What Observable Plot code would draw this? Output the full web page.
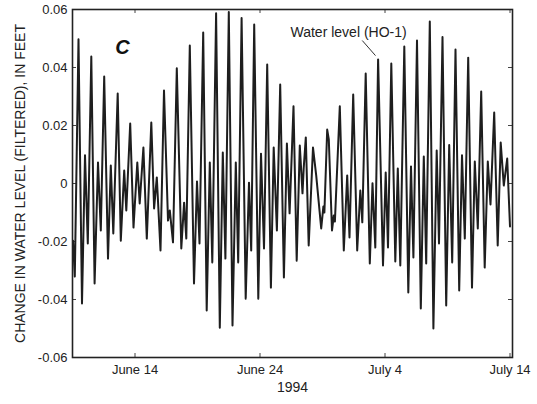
<!DOCTYPE html>
<html>
<head>
<meta charset="utf-8">
<script src="https://cdn.jsdelivr.net/npm/d3@7"></script>
<script src="https://cdn.jsdelivr.net/npm/@observablehq/plot@0.6"></script>
<style>
  html, body { margin: 0; padding: 0; background: #fff; }
  #chart svg { display: block; font-family: "Liberation Sans", Arial, sans-serif; }
</style>
</head>
<body>
<div id="chart"></div>
<script>
// Filtered water-level record at well HO-1, summer 1994.
// Time is given as fractional day of June 1994 (July 4 = day 34).
const junDay = [
  9.04, 9.184, 9.48, 9.76, 10.0, 10.224, 10.504, 10.768, 11.04, 11.264,
  11.536, 11.84, 12.064, 12.264, 12.616, 12.864, 13.136, 13.304, 13.616, 13.88,
  14.184, 14.376, 14.672, 14.944, 15.304, 15.528, 15.744, 16.04, 16.32, 16.64,
  16.784, 17.04, 17.344, 17.704, 17.928, 18.104, 18.384, 18.72, 18.96, 19.16,
  19.456, 19.736, 19.984, 20.184, 20.488, 20.784, 21.024, 21.232, 21.504, 21.8,
  22.064, 22.256, 22.528, 22.856, 23.12, 23.296, 23.536, 23.864, 24.08, 24.32,
  24.576, 24.872, 25.096, 25.352, 25.616, 25.912, 26.152, 26.368, 26.68, 26.936,
  27.184, 27.4, 27.496, 27.664, 27.896, 28.24, 28.496, 28.896, 29.072, 29.152,
  29.376, 29.504, 29.76, 29.904, 29.992, 30.384, 30.704, 30.976, 31.16, 31.456,
  31.776, 32.024, 32.184, 32.456, 32.784, 33.0, 33.224, 33.448, 33.84, 34.056,
  34.24, 34.504, 34.824, 35.024, 35.224, 35.544, 35.864, 36.08, 36.272, 36.56,
  36.864, 37.104, 37.296, 37.584, 37.872, 38.136, 38.32, 38.6, 38.896, 39.136,
  39.376, 39.64, 39.936, 40.16, 40.384, 40.656, 40.96, 41.184, 41.424, 41.696,
  41.976, 42.224, 42.44, 42.736, 43.016, 43.256, 43.504, 43.776, 44.0
];
// Change in water level, feet
const levelFt = [
  -0.0197, -0.0321, 0.0497, -0.0414, 0.0097, -0.0207, 0.0438, -0.0345, 0.0072, -0.0162,
  0.0369, -0.0259, 0.0062, -0.0172, 0.0310, -0.0197, 0.0045, -0.0093, 0.0207, -0.0152,
  0.0072, -0.0069, 0.0124, -0.0190, 0.0210, -0.0086, 0.0021, -0.0231, 0.0321, -0.0128,
  -0.0093, -0.0203, 0.0397, -0.0224, -0.0066, -0.0190, 0.0476, -0.0345, 0.0007, -0.0207,
  0.0521, -0.0438, 0.0072, -0.0272, 0.0587, -0.0497, 0.0107, -0.0259, 0.0591, -0.0490,
  0.0072, -0.0272, 0.0571, -0.0397, 0.0003, -0.0231, 0.0548, -0.0397, 0.0103, -0.0224,
  0.0410, -0.0359, 0.0124, -0.0162, 0.0341, -0.0324, 0.0138, -0.0103, 0.0266, -0.0266,
  0.0131, -0.0034, 0.0052, 0.0159, -0.0214, 0.0124, 0.0028, -0.0155, -0.0079, -0.0100,
  0.0186, 0.0152, -0.0162, -0.0110, -0.0131, 0.0266, -0.0231, 0.0028, -0.0186, 0.0307,
  -0.0231, -0.0024, -0.0134, 0.0379, -0.0276, 0.0001, -0.0221, 0.0428, -0.0283, 0.0038,
  -0.0221, 0.0414, -0.0269, 0.0052, -0.0283, 0.0472, -0.0376, 0.0059, -0.0255, 0.0493,
  -0.0431, 0.0093, -0.0276, 0.0559, -0.0500, 0.0114, -0.0207, 0.0505, -0.0421, 0.0133,
  -0.0272, 0.0462, -0.0369, 0.0097, -0.0190, 0.0434, -0.0359, 0.0076, -0.0155, 0.0317,
  -0.0290, 0.0076, -0.0072, 0.0245, -0.0214, 0.0141, -0.0007, 0.0086, -0.0148
];

const xTickDays = [14, 24, 34, 44];
const xTickLabels = ["June 14", "June 24", "July 4", "July 14"];
const yTicks = [0.06, 0.04, 0.02, 0, -0.02, -0.04, -0.06];
const yTickLabels = ["0.06", "0.04", "0.02", "0", "-0.02", "-0.04", "-0.06"];
const xDomainDays = [9, 44.2];

const seriesName = "Water level (HO-1)";
const seriesLabelAt = [26.44, 0.052];           // day, feet
const leaderFrom = [32.18, 0.0493];
const leaderTo = [33.24, 0.0441];
const panelLetter = "C";
const panelLetterAt = [13.0, 0.0469];

const day0 = Date.UTC(1994, 5, 1);
const toDate = d => new Date(day0 + (d - 1) * 864e5);

const rows = junDay.map((d, i) => ({t: toDate(d), v: levelFt[i]}));
const xTickDates = xTickDays.map(toDate);
const xLabelByTime = new Map(xTickDates.map((d, i) => [+d, xTickLabels[i]]));
const yLabelByValue = new Map(yTicks.map((v, i) => [v, yTickLabels[i]]));

const W = 537, H = 404;
const mL = 72, mR = 25, mT = 9, mB = 47;
const innerW = W - mL - mR, innerH = H - mT - mB;
const tickLen = 4;

const chart = Plot.plot({
  width: W,
  height: H,
  marginLeft: mL,
  marginRight: mR,
  marginTop: mT,
  marginBottom: mB,
  style: {fontFamily: '"Liberation Sans", Arial, sans-serif', background: "#fff", color: "#222"},
  x: {type: "utc", domain: xDomainDays.map(toDate), axis: null},
  y: {domain: [-0.06, 0.06], axis: null},
  marks: [
    // inward tick marks on all four sides
    Plot.ruleX(xTickDates, {stroke: "#444", strokeWidth: 1, insetTop: innerH - tickLen}),
    Plot.ruleX(xTickDates, {stroke: "#444", strokeWidth: 1, insetBottom: innerH - tickLen}),
    Plot.ruleY(yTicks, {stroke: "#444", strokeWidth: 1, insetRight: innerW - tickLen}),
    Plot.ruleY(yTicks, {stroke: "#444", strokeWidth: 1, insetLeft: innerW - tickLen}),
    Plot.axisX(xTickDates, {
      anchor: "bottom", tickSize: 0, tickPadding: 7, fontSize: 13,
      tickFormat: d => xLabelByTime.get(+d), label: null
    }),
    Plot.axisY(yTicks, {
      anchor: "left", tickSize: 0, tickPadding: 5, fontSize: 13,
      tickFormat: v => yLabelByValue.get(v), label: null
    }),
    Plot.line(rows, {x: "t", y: "v", stroke: "#1e1e1e", strokeWidth: 2, strokeLinejoin: "round"}),
    Plot.frame({stroke: "#222", strokeWidth: 1.6}),
    Plot.text([seriesName], {
      x: () => toDate(seriesLabelAt[0]), y: () => seriesLabelAt[1],
      text: d => d, textAnchor: "start", fontSize: 14, fill: "#222"
    }),
    Plot.link([0], {
      x1: () => toDate(leaderFrom[0]), y1: () => leaderFrom[1],
      x2: () => toDate(leaderTo[0]), y2: () => leaderTo[1],
      stroke: "#333", strokeWidth: 1
    }),
    Plot.text([panelLetter], {
      x: () => toDate(panelLetterAt[0]), y: () => panelLetterAt[1],
      text: d => d, fontSize: 20, fontWeight: "bold", fontStyle: "italic", fill: "#111"
    }),
    Plot.text(["1994"], {frameAnchor: "bottom", dy: 34, fontSize: 14, fill: "#222"}),
    Plot.text(["CHANGE IN WATER LEVEL (FILTERED), IN FEET"], {
      frameAnchor: "left", textAnchor: "middle", rotate: -90, dx: -52, fontSize: 14, fill: "#222"
    })
  ]
});

document.getElementById("chart").append(chart);
</script>
</body>
</html>
